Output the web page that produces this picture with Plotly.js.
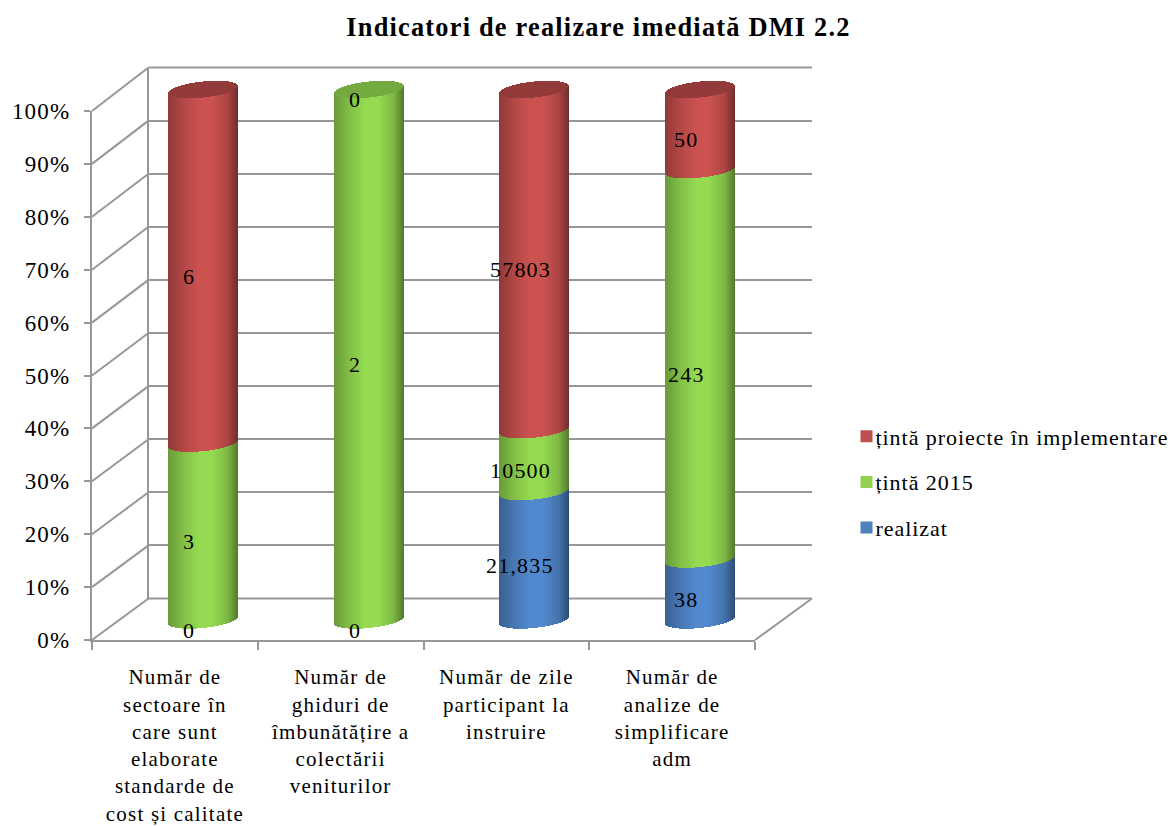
<!DOCTYPE html>
<html>
<head>
<meta charset="utf-8">
<script src="https://cdn.plot.ly/plotly-3.0.1.min.js"></script>
<style>
html,body{margin:0;padding:0;background:#fff}
svg text{letter-spacing:1.2px}
.ytick text{letter-spacing:1.4px}
.legendtext{transform:translateX(-11px);letter-spacing:.95px}
</style>
</head>
<body>
<div id="chart" style="width:1170px;height:826px"></div>
<script>
// ---- data ----
const categories = [
  'Număr de<br>sectoare în<br>care sunt<br>elaborate<br>standarde de<br>cost și calitate',
  'Număr de<br>ghiduri de<br>îmbunătățire a<br>colectării<br>veniturilor',
  'Număr de zile<br>participant la<br>instruire',
  'Număr de<br>analize de<br>simplificare<br>adm'
];
const realizat = [0, 0, 21835, 38];
const tinta2015 = [3, 2, 10500, 243];
const tintaProiecte = [6, 0, 57803, 50];
const realizatLabels = ['0', '0', '21,835', '38'];
const tinta2015Labels = ['3', '2', '10500', '243'];
const tintaProiecteLabels = ['6', '0', '57803', '50'];
const percentTicks = [0, 10, 20, 30, 40, 50, 60, 70, 80, 90, 100];

// ---- styling / layout constants ----
const W = 1170, H = 826;
const GRID = '#979797';
const dx = px => px / W, dy = px => 1 - px / H;
const front = {l: 92, r: 755, b: 640, t: 111};
const wall = {l: 148.5, r: 812, b: 598.5, t: 67.5};
const cyl = {l: 120, r: 783, b: 620, t: 89.5};
const pctPerPx = 100 / (cyl.b - cyl.t);
const unitPerPx = 4 / (cyl.r - cyl.l);
const CYL_W = 70, RY = 8, TILT = 3.5, STEPS = 70;
const PAD = 5; // extra percent room so the cylinder ends are not clipped
const padPx = PAD / pctPerPx;

const seriesStyle = [
  {name: 'realizat', vals: realizat, labels: realizatLabels, base: [82, 137, 206], legend: '#4F81BD', capF: .72},
  {name: 'țintă 2015', vals: tinta2015, labels: tinta2015Labels, base: [149, 219, 81], legend: '#92D050', capF: .78},
  {name: 'țintă proiecte în implementare', vals: tintaProiecte, labels: tintaProiecteLabels, base: [204, 82, 80], legend: '#C0504D', capF: .72}
];

// shading across the cylinder (t from -1 to 1)
const shadeStops = [[-1, .70], [-.6, .86], [-.1, 1], [.25, 1], [.7, .84], [1, .55]];
function shade(t) {
  for (let i = 1; i < shadeStops.length; i++) {
    const [a, fa] = shadeStops[i - 1], [b, fb] = shadeStops[i];
    if (t <= b) return fa + (fb - fa) * (t - a) / (b - a);
  }
  return .55;
}
const rgb = (c, f) => `rgb(${c.map(v => Math.round(v * f)).join(',')})`;
const tValues = Array.from({length: STEPS}, (_, i) => -1 + (2 * i + 1) / STEPS);
const arc = t => RY * Math.sqrt(Math.max(0, 1 - t * t)) * pctPerPx;
const tilt = t => TILT * t * pctPerPx;
const halfUnits = CYL_W / 2 * unitPerPx;
const sliceW = CYL_W / STEPS * unitPerPx * 1.12;

const totals = categories.map((_, c) => seriesStyle.reduce((s, ser) => s + ser.vals[c], 0));
const traces = [];
const annotations = [];
const running = categories.map(() => 0);
const capX = [], capY = [], capB = [], capC = [];

seriesStyle.forEach(ser => {
  const xs = [0], ys = [0], bases = [0], colors = [ser.legend];
  ser.vals.forEach((v, c) => {
    const p0 = running[c];
    const p1 = p0 + v / totals[c] * 100;
    tValues.forEach(t => {
      if (v > 0) {
        xs.push(c + t * halfUnits);
        ys.push(p1 - p0);
        bases.push(p0 - arc(t) + tilt(t));
        colors.push(rgb(ser.base, shade(t)));
      }
      if (v > 0 && p1 > 99.999) {
        capX.push(c + t * halfUnits);
        capY.push(2 * arc(t));
        capB.push(p1 - arc(t) + tilt(t));
        capC.push(rgb(ser.base, ser.capF * (0.94 + 0.06 * shade(t))));
      }
    });
    annotations.push({
      xref: 'x2', yref: 'y2', x: c, y: (p0 + p1) / 2, text: ser.labels[c], showarrow: false,
      xshift: -14, yshift: -10, font: {family: 'Liberation Serif', size: 22, color: '#000'}
    });
    running[c] = p1;
  });
  traces.unshift({
    type: 'bar', name: ser.name, xaxis: 'x2', yaxis: 'y2', x: xs, y: ys, base: bases, width: sliceW,
    marker: {color: colors, line: {width: 0}}, hoverinfo: 'skip', legendgroup: ser.name
  });
});
traces.push({
  type: 'bar', name: 'capac', showlegend: false, xaxis: 'x2', yaxis: 'y2', x: capX, y: capY, base: capB, width: sliceW,
  marker: {color: capC, line: {width: 0}}, hoverinfo: 'skip'
});
// keep the wall subplot and the front axes alive (no visible marks)
traces.push({type: 'scatter', mode: 'none', xaxis: 'x', yaxis: 'y', x: [0, 1], y: [0, 100], showlegend: false, hoverinfo: 'skip'});
traces.push({type: 'scatter', mode: 'none', xaxis: 'x3', yaxis: 'y3', x: categories, y: categories.map(() => 0), showlegend: false, hoverinfo: 'skip'});

// oblique side-wall and floor edges
const shapes = percentTicks.map(p => ({
  type: 'line', xref: 'paper', yref: 'paper', layer: 'below',
  x0: dx(front.l), y0: dy(front.b + (front.t - front.b) * p / 100),
  x1: dx(wall.l), y1: dy(wall.b + (wall.t - wall.b) * p / 100),
  line: {color: GRID, width: 2}
}));
shapes.push({
  type: 'line', xref: 'paper', yref: 'paper', layer: 'below',
  x0: dx(front.r), y0: dy(front.b), x1: dx(wall.r), y1: dy(wall.b), line: {color: GRID, width: 2}
});
// wall lines at the ends of the range, which the axis grid leaves out
[wall.b, wall.t].forEach(py => shapes.push({
  type: 'line', xref: 'paper', yref: 'paper', layer: 'below',
  x0: dx(wall.l), x1: dx(wall.r), y0: dy(py), y1: dy(py), line: {color: GRID, width: 2}
}));

const fontCat = {family: 'Liberation Serif', size: 21, color: '#000'};
const fontTick = {family: 'Liberation Serif', size: 23, color: '#000'};
const layout = {
  width: W, height: H, autosize: false,
  margin: {l: 0, r: 0, t: 0, b: 0, autoexpand: false},
  paper_bgcolor: '#fff', plot_bgcolor: 'rgba(0,0,0,0)',
  barmode: 'overlay', bargap: 0,
  title: {text: '<b>Indicatori de realizare imediată DMI 2.2</b>', x: dx(598.5), xanchor: 'center', xref: 'paper',
    y: dy(27), yanchor: 'middle', yref: 'paper', font: {family: 'Liberation Serif', size: 26.4, color: '#000'}},
  // back wall
  xaxis: {domain: [dx(wall.l), dx(wall.r)], range: [0, 1], anchor: 'y', showgrid: false, showticklabels: false, ticks: '', zeroline: false, showline: false, fixedrange: true},
  yaxis: {domain: [dy(wall.b), dy(wall.t)], range: [0, 100], anchor: 'x', tickvals: percentTicks, showgrid: true, gridcolor: GRID, gridwidth: 2,
    showticklabels: false, ticks: '', showline: true, linecolor: GRID, linewidth: 2, zeroline: false, fixedrange: true},
  // cylinders
  xaxis2: {domain: [dx(cyl.l), dx(cyl.r)], range: [-.5, 3.5], anchor: 'y2', visible: false, fixedrange: true},
  yaxis2: {domain: [dy(cyl.b + padPx), dy(cyl.t - padPx)], range: [-PAD, 100 + PAD], anchor: 'x2', visible: false, fixedrange: true},
  // front axes
  xaxis3: {domain: [dx(front.l), dx(front.r)], anchor: 'y3', type: 'category', categoryorder: 'array', categoryarray: categories,
    range: [-.5, 3.5], tickson: 'boundaries', ticks: 'outside', ticklen: 8, tickwidth: 2, tickcolor: GRID, tickangle: 0,
    showline: true, linecolor: GRID, linewidth: 2, showgrid: false, ticklabelstandoff: 17, tickfont: fontCat, fixedrange: true},
  yaxis3: {domain: [dy(front.b), dy(front.t)], anchor: 'x3', range: [0, 100], tickvals: percentTicks, ticktext: percentTicks.map(p => p + '%'),
    ticks: 'outside', ticklen: 6, tickwidth: 2, tickcolor: GRID, showline: true, linecolor: GRID, linewidth: 2, showgrid: false, zeroline: false,
    ticklabelstandoff: 9, tickfont: fontTick, fixedrange: true},
  legend: {x: dx(846.5), xanchor: 'left', y: dy(482), yanchor: 'middle', traceorder: 'grouped', tracegroupgap: 14,
    font: {family: 'Liberation Serif', size: 22, color: '#000'}, bgcolor: 'rgba(0,0,0,0)', borderwidth: 0},
  shapes, annotations, showlegend: true
};
Plotly.newPlot('chart', traces, layout, {displayModeBar: false, staticPlot: true});
</script>
</body>
</html>
